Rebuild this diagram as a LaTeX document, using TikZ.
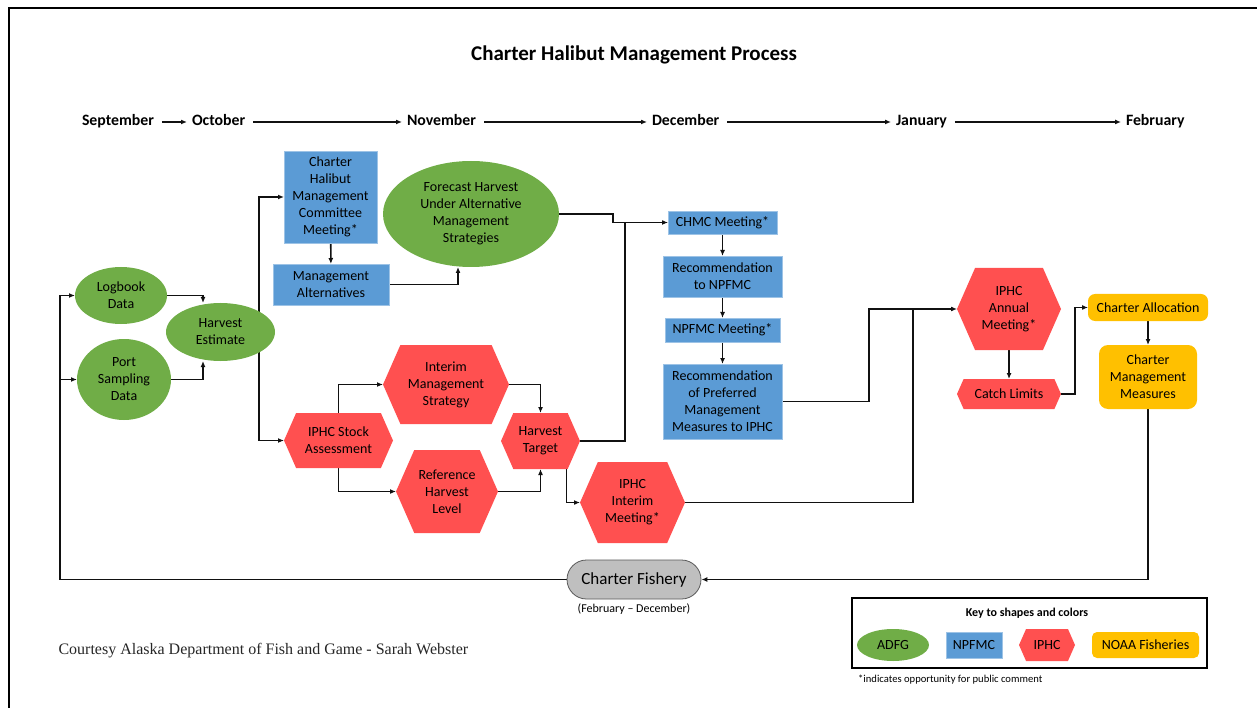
\documentclass[tikz,border=0pt]{standalone}
\usepackage{fontspec}
\setmainfont{Carlito}
\newfontfamily\timesfont{Liberation Serif}
\usetikzlibrary{shapes.geometric,shapes.misc,arrows.meta,calc}
\definecolor{cgreen}{HTML}{70AD47}
\definecolor{cblue}{HTML}{5B9BD5}
\definecolor{cred}{HTML}{FF5050}
\definecolor{cyellow}{HTML}{FFC000}
\definecolor{cgray}{HTML}{BFBFBF}
\definecolor{cline}{HTML}{111111}
\pgfdeclarelayer{lines}
\pgfdeclarelayer{fills}
\pgfsetlayers{lines,fills,main}
\newcommand\fsz[2]{\fontsize{#1}{#2}\selectfont}
\newcommand\hexnode[6]{%
  \node[hexbox, minimum width=#4, minimum height=#5] (#1) at (#2,#3) {#6};
  \begin{pgfonlayer}{fills}
  \fill[cred] (#1.west) -- ($(#1.north west)+({0.22*#5},0)$) -- ($(#1.north east)+({-0.22*#5},0)$) -- (#1.east)
     -- ($(#1.south east)+({-0.22*#5},0)$) -- ($(#1.south west)+({0.22*#5},0)$) -- cycle;
  \end{pgfonlayer}}
\tikzset{
  base/.style={align=center, inner sep=1pt, outer sep=0pt, font=\fsz{14}{17}, text=black},
  adfg/.style={base, ellipse, fill=cgreen},
  npfmc/.style={base, rectangle, fill=cblue, draw=cblue!60!white, line width=0.6pt},
  hexbox/.style={base, rectangle},
  noaa/.style={base, rectangle, rounded corners=7pt, fill=cyellow},
  arr/.style={draw=cline, line width=1.6pt, -{Latex[length=6pt,width=5pt]}},
  ln/.style={draw=cline, line width=1.6pt},
  month/.style={font=\bfseries\fsz{15.8}{18}, inner sep=4pt, outer sep=0pt, anchor=west, text height=11pt, text depth=3pt}
}
\begin{document}
\begin{tikzpicture}[x=1pt,y=-1pt]
\useasboundingbox (0,0) rectangle (1257,708);
\draw[line width=1.5pt] (9,708) -- (9,8) -- (1257,8);

\node[font=\bfseries\fsz{21}{24}] (title) at (634,55) {Charter Halibut Management Process};

% months
\node[month] (sep) at (78,122) {September};
\node[month] (oct) at (188,122) {October};
\node[month] (nov) at (403,122) {November};
\node[month] (dec) at (648,122) {December};
\node[month] (jan) at (892,122) {January};
\node[month] (feb) at (1122,122) {February};

% ADFG
\node[adfg, minimum width=92, minimum height=57] (log) at (121,295.5) {Logbook\\Data};
\node[adfg, minimum width=94, minimum height=81] (port) at (124,379.5) {Port\\Sampling\\Data};
\node[adfg, minimum width=109, minimum height=58] (he) at (220.5,332) {Harvest\\Estimate};
\node[adfg, minimum width=176, minimum height=106] (fc) at (471,214) {Forecast Harvest\\Under Alternative\\Management\\Strategies};

% NPFMC
\node[npfmc, minimum width=93, minimum height=92] (chm) at (330.5,197) {Charter\\Halibut\\Management\\Committee\\Meeting*};
\node[npfmc, minimum width=116, minimum height=41] (ma) at (331,284.5) {Management\\Alternatives};
\node[npfmc, minimum width=109, minimum height=23] (chmc) at (722.5,222.5) {CHMC Meeting*};
\node[npfmc, minimum width=119, minimum height=41] (recn) at (722.5,276.5) {Recommendation\\to NPFMC};
\node[npfmc, minimum width=115, minimum height=24] (npm) at (722.5,330) {NPFMC Meeting*};
\node[npfmc, minimum width=119, minimum height=75] (rpm) at (722.5,401.5) {Recommendation\\of Preferred\\Management\\Measures to IPHC};

% IPHC
\hexnode{stock}{338.5}{440.5}{109}{55}{IPHC Stock\\Assessment}
\hexnode{ims}{446}{384.5}{126}{79}{Interim\\Management\\Strategy}
\hexnode{rhl}{447}{491.5}{102}{83}{Reference\\Harvest\\Level}
\hexnode{ht}{540.5}{441}{79}{56}{Harvest\\Target}
\hexnode{iim}{632.5}{502.5}{105}{81}{IPHC\\Interim\\Meeting*}
\hexnode{iam}{1009}{309}{104}{82}{IPHC\\Annual\\Meeting*}
\hexnode{cl}{1009}{394}{104}{30}{Catch Limits}

% NOAA
\node[noaa, minimum width=120, minimum height=27] (ca) at (1148,307.5) {Charter Allocation};
\node[noaa, minimum width=98, minimum height=64, rounded corners=9pt] (cmm) at (1148,377) {Charter\\Management\\Measures};

% fishery
\node[rounded rectangle, fill=cgray, draw=black!65, line width=0.8pt, minimum width=136, minimum height=39, inner sep=1pt, font=\fsz{17}{20}] (cf) at (634,579.5) {Charter Fishery};
\node[font=\fsz{12}{14}] (cfl) at (634,609) {(February -- December)};

\node[anchor=west, font=\timesfont\fsz{16}{18}, text=black!85] (court) at (55,651) {Courtesy Alaska Department of Fish and Game - Sarah Webster};

% key
\node[draw, line width=1.3pt, minimum width=355, minimum height=70, inner sep=0pt] (key) at (1029.5,633) {};
\node[font=\bfseries\fsz{12}{14}] (keyt) at (1027,613) {Key to shapes and colors};
\node[adfg, minimum width=72, minimum height=32] (k1) at (893,645) {ADFG};
\node[npfmc, minimum width=56, minimum height=26] (k2) at (974,645) {NPFMC};
\hexnode{k3}{1047}{645}{56}{32}{IPHC}
\node[noaa, minimum width=107, minimum height=26, rounded corners=5pt] (k4) at (1145.5,645) {NOAA Fisheries};
\node[anchor=west, font=\fsz{10.6}{12}, inner sep=0pt] (note) at (858,680) {*indicates opportunity for public comment};

\begin{pgfonlayer}{lines}
% month arrows
\draw[arr, shorten <=4pt, shorten >=1pt] (sep.east) -- (oct.west);
\draw[arr, shorten <=4pt, shorten >=1pt] (oct.east) -- (nov.west);
\draw[arr, shorten <=4pt, shorten >=1pt] (nov.east) -- (dec.west);
\draw[arr, shorten <=4pt, shorten >=1pt] (dec.east) -- (jan.west);
\draw[arr, shorten <=4pt, shorten >=1pt] (jan.east) -- (feb.west);

% ADFG inputs
\draw[arr] (log.east) -| ($(he.north)+(-17.5,0)$);
\draw[arr] (port.east) -| ($(he.south)+(-17.5,0)$);
\coordinate (split) at ($(he.center)+(38.5,0)$);
\draw[ln] (he.center) -- (split);
\draw[arr] (split) |- (chm.west);
\draw[arr] (split) |- (stock.west);

% NPFMC path
\draw[arr] (chm) -- (ma);
\draw[arr] (ma.east) -| ($(fc.south)+(-13,0)$);
\draw[arr] (fc.east) -- ++(54,0) |- (chmc.west);
\draw[ln] (ht.east) -| ($(chmc.west)+(-43,0)$);
\draw[arr] (chmc) -- (recn);
\draw[arr] (recn) -- (npm);
\draw[arr] (npm) -- (rpm);

% IPHC path
\draw[arr] (stock.north) |- (ims.west);
\draw[arr] (stock.south) |- (rhl.west);
\draw[arr] (ims.east) -| (ht.north);
\draw[arr] (rhl.east) -| (ht.south);
\draw[arr] ($(ht.south east)+(-13.5,0)$) |- (iim.west);
\draw[arr] (iim.east) -| ($(iam.west)+(-44,0)$) -- (iam.west);
\draw[ln] (rpm.east) -| ($(iam.west)+(-88,0)$) -- ($(iam.west)+(-44,0)$);
\draw[arr] (iam) -- (cl);
\draw[arr] (cl.east) -| ($(ca.west)+(-13,0)$) -- (ca.west);
\draw[arr] (ca) -- (cmm);
\draw[arr] (cmm.south) |- (cf.east);
\coordinate (lx) at ($(log.west)+(-15,0)$);
\draw[arr] (cf.west) -| (lx) -- (log.west);
\draw[arr] (lx |- port.west) -- (port.west);
\end{pgfonlayer}
\end{tikzpicture}
\end{document}
